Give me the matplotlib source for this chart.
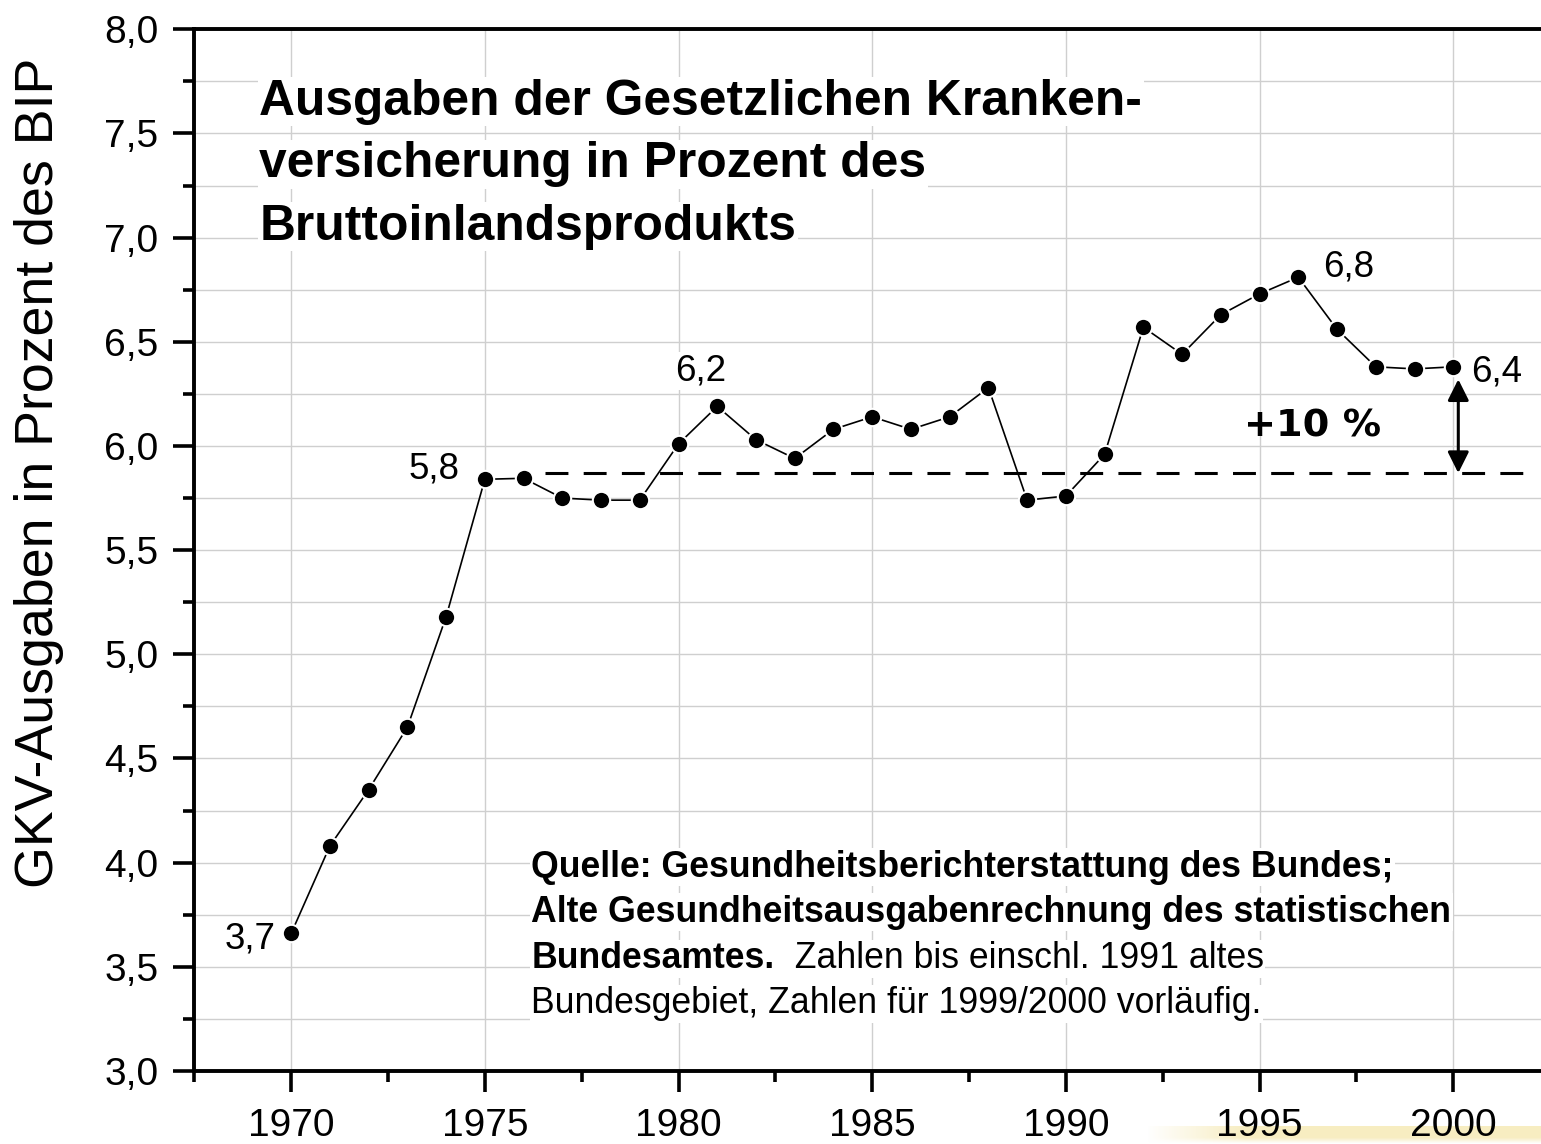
import matplotlib
matplotlib.use("Agg")
import matplotlib.pyplot as plt
import numpy as np
from matplotlib.ticker import MultipleLocator, FuncFormatter

# ---------------- data ----------------
years = [1970, 1971, 1972, 1973, 1974, 1975, 1976, 1977, 1978, 1979,
         1980, 1981, 1982, 1983, 1984, 1985, 1986, 1987, 1988, 1989,
         1990, 1991, 1992, 1993, 1994, 1995, 1996, 1997, 1998, 1999, 2000]
share = [3.66, 4.08, 4.35, 4.65, 5.18, 5.84, 5.845, 5.75, 5.74, 5.74,
         6.01, 6.19, 6.03, 5.94, 6.08, 6.14, 6.08, 6.14, 6.28, 5.74,
         5.76, 5.96, 6.57, 6.44, 6.63, 6.73, 6.81, 6.56, 6.38, 6.37, 6.38]
baseline_level = 5.87
baseline_span = [1976.55, 2001.85]
arrow_top = 6.32
arrow_year = 2000.13

value_labels = ["3,7", "5,8", "6,2", "6,8", "6,4"]
title_lines = ["Ausgaben der Gesetzlichen Kranken-",
               "versicherung in Prozent des",
               "Bruttoinlandsprodukts"]
source_bold = ["Quelle: Gesundheitsberichterstattung des Bundes;",
               "Alte Gesundheitsausgabenrechnung des statistischen",
               "Bundesamtes."]
source_regular = ["  Zahlen bis einschl. 1991 altes",
                  "Bundesgebiet, Zahlen für 1999/2000 vorläufig."]
ylabel = "GKV-Ausgaben in Prozent des BIP"
pct_label = "+10 %"

# ---------------- figure ----------------
W, H = 1541, 1144
fig = plt.figure(figsize=(W / 100, H / 100), dpi=100)
plt.rcParams['font.family'] = ['Liberation Sans', 'DejaVu Sans']

# yellow glow in bottom-right corner (behind everything)
gax = fig.add_axes([1146 / W, 0, (W - 1146) / W, 18 / H], zorder=0)
gx = np.linspace(0, 1, 200)
gy = np.linspace(0, 1, 20)
GX, GY = np.meshgrid(gx, gy)
alpha = np.clip(GX / 0.25, 0, 1) * np.clip((1 - GY) / 0.35, 0, 1)
rgba = np.zeros((20, 200, 4))
rgba[..., 0] = 0.97
rgba[..., 1] = 0.93
rgba[..., 2] = 0.76
rgba[..., 3] = alpha
gax.imshow(rgba, aspect='auto', origin='upper', extent=[0, 1, 0, 1])
gax.axis('off')

left = 194.3 / W
bottom = 1 - 1071 / H
top = 1 - 29.3 / H
x0, x1 = 1967.5, 2002.5
px_per_year = (1453.3 - 291.7) / 30
right_px = 291.7 + (x1 - 1970) * px_per_year
ax = fig.add_axes([left, bottom, (right_px - 194.3) / W, top - bottom], zorder=2)
ax.set_xlim(x0, x1)
ax.set_ylim(3.0, 8.0)

# grid
ax.xaxis.set_major_locator(MultipleLocator(5))
ax.xaxis.set_minor_locator(MultipleLocator(2.5))
ax.yaxis.set_major_locator(MultipleLocator(0.5))
ax.yaxis.set_minor_locator(MultipleLocator(0.25))
ax.grid(True, which='major', axis='x', color='#cfcfcf', lw=1.0, zorder=0)
ax.grid(True, which='both', axis='y', color='#cfcfcf', lw=1.0, zorder=0)
ax.set_axisbelow(True)

for s in ['left', 'bottom', 'top']:
    ax.spines[s].set_linewidth(2.8)
ax.spines['right'].set_visible(False)

ax.tick_params(which='major', direction='out', length=15, width=2.6,
               labelsize=28, pad=11)
ax.tick_params(which='minor', direction='out', length=8, width=2.6)
ax.tick_params(axis='x', which='major', pad=12)
ax.yaxis.set_major_formatter(FuncFormatter(lambda v, p: f"{v:.1f}".replace('.', ',')))
ax.xaxis.set_major_formatter(FuncFormatter(lambda v, p: f"{int(round(v))}"))

# dashed reference line
ax.plot(baseline_span, [baseline_level, baseline_level], color='black',
        lw=2.2, dashes=(7.5, 5), zorder=3)

# data line
ax.plot(years, share, color='black', lw=1.2, marker='o', ms=12.5,
        mfc='black', mec='white', mew=1.5, zorder=4)

# arrow
ax.annotate('', xy=(arrow_year, arrow_top), xytext=(arrow_year, baseline_level),
            arrowprops=dict(arrowstyle='<|-|>', lw=2.2, color='black',
                            mutation_scale=32, shrinkA=0, shrinkB=0), zorder=5)

wb = dict(facecolor='white', edgecolor='none', pad=1)
fs_val = 26.5

# value labels
ax.text(1969.61, 3.588, value_labels[0], ha='right', va='baseline', fontsize=fs_val, bbox=wb, zorder=6)
ax.text(1974.35, 5.844, value_labels[1], ha='right', va='baseline', fontsize=fs_val, bbox=wb, zorder=6)
ax.text(1979.90, 6.316, value_labels[2], ha='left', va='baseline', fontsize=fs_val, bbox=wb, zorder=6)
ax.text(1996.63, 6.812, value_labels[3], ha='left', va='baseline', fontsize=fs_val, bbox=wb, zorder=6)
ax.text(2000.45, 6.308, value_labels[4], ha='left', va='baseline', fontsize=fs_val, bbox=wb, zorder=6)

# +10 %
ax.text(1994.59, 6.044, pct_label, ha='left', va='baseline', fontsize=27.5,
        fontweight='bold', family='DejaVu Sans', zorder=6)

# title
for line, yb in zip(title_lines, [7.589, 7.291, 6.991]):
    ax.text(1969.18, yb, line, ha='left', va='baseline', fontsize=35.8,
            fontweight='bold', bbox=wb, zorder=6)

# source text
src_x = 1976.2
src_y = [3.932, 3.716, 3.494, 3.278]
fs_src = 25.7
ax.text(src_x, src_y[0], source_bold[0], ha='left', va='baseline', fontsize=fs_src,
        fontweight='bold', bbox=wb, zorder=6)
ax.text(src_x, src_y[1], source_bold[1], ha='left', va='baseline', fontsize=fs_src,
        fontweight='bold', bbox=wb, zorder=6)
tb = ax.text(src_x, src_y[2], source_bold[2], ha='left', va='baseline', fontsize=fs_src,
             fontweight='bold', bbox=wb, zorder=6)
ax.annotate(source_regular[0], xy=(1, 0), xycoords=tb, ha='left', va='bottom',
            fontsize=fs_src, bbox=wb, zorder=6)
ax.text(src_x, src_y[3], source_regular[1], ha='left', va='baseline', fontsize=fs_src,
        bbox=wb, zorder=6)

# y label
fig.text(14 / W, 1 - 473 / H, ylabel, rotation=90, ha='left', va='center',
         fontsize=38.7)

fig.savefig('out.png', dpi=100)
